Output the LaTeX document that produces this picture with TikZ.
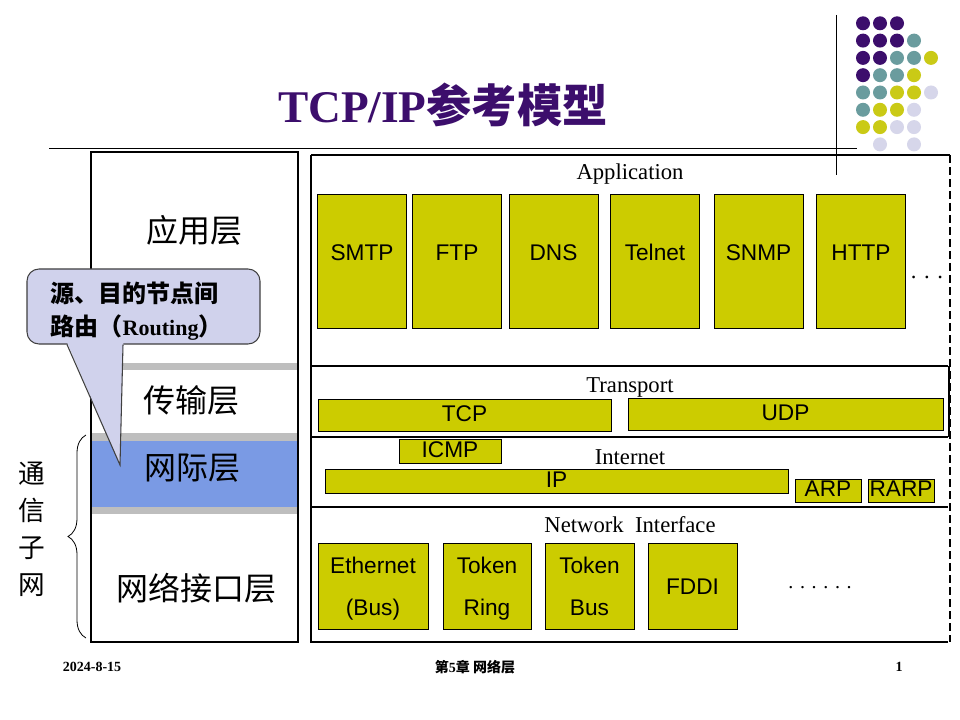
\documentclass[tikz,border=0pt]{standalone}
\usepackage{fontspec}
\setmainfont{Liberation Serif}
\newfontfamily\arial{Liberation Sans}
\newfontfamily\cjk{Noto Sans CJK SC}
\usetikzlibrary{decorations.pathreplacing}
\definecolor{deep}{RGB}{60,14,108}
\definecolor{dotteal}{RGB}{106,156,158}
\definecolor{dotolive}{RGB}{202,202,22}
\definecolor{dotlav}{RGB}{214,214,234}
\definecolor{boxfill}{RGB}{204,204,0}
\definecolor{layblue}{RGB}{122,154,228}
\definecolor{callfill}{RGB}{208,210,236}
\definecolor{bargray}{RGB}{190,190,190}

\begin{document}
\begin{tikzpicture}[x=0.75pt,y=-0.75pt,
	proto/.style={draw=black,fill=boxfill,inner sep=0pt,font=\arial\fontsize{17}{32}\selectfont},
	app/.style={proto,minimum width=66.75pt,minimum height=100.5pt,text height=12.5pt,text depth=13.8pt},
	bar/.style={proto,minimum height=#1,text height=12.5pt,text depth=3pt},
	nif/.style={proto,align=center,minimum width=66.75pt,minimum height=64.5pt},
	sect/.style={font=\fontsize{17}{20}\selectfont},
	layer/.style={font=\cjk\fontsize{24}{28}\selectfont},
	foot/.style={font=\bfseries\fontsize{10.5}{12}\selectfont}]
	\useasboundingbox (0,0) rectangle (960,720);
	\fill[white] (0,0) rectangle (960,720);
	\foreach \c/\r in {1/1,2/1,3/1,1/2,2/2,3/2,1/3,2/3,1/4}
		\fill[deep] (846+17*\c,6+17.3*\r) circle (5.25pt);
	\foreach \c/\r in {4/2,3/3,4/3,2/4,3/4,1/5,2/5,1/6}
		\fill[dotteal] (846+17*\c,6+17.3*\r) circle (5.25pt);
	\foreach \c/\r in {5/3,4/4,3/5,4/5,2/6,3/6,1/7,2/7}
		\fill[dotolive] (846+17*\c,6+17.3*\r) circle (5.25pt);
	\foreach \c/\r in {5/5,4/6,3/7,4/7,2/8,4/8}
		\fill[dotlav] (846+17*\c,6+17.3*\r) circle (5.25pt);
	\draw[line width=.6pt] (836,15) -- (836,175);
	\draw[line width=.6pt] (49,148) -- (857,148);
	\node[text=deep,font=\fontsize{34}{40}\selectfont] (title) at (443,105) {{\bfseries TCP/IP}{\cjk\bfseries 参考模型}};

	\fill[layblue] (91,441) rectangle (298,507);
	\fill[bargray] (91,363) rectangle (298,370);
	\fill[bargray] (91,433) rectangle (298,441);
	\fill[bargray] (91,507) rectangle (298,514);
	\draw[line width=.8pt] (91,152) rectangle (298,642);
	\draw[line width=2pt] (91,152) -- (298,152);
	\draw[line width=1.5pt] (91,370) -- (91,510) (298,152) -- (298,510) (91,642) -- (298,642);
	\node[layer] (app-l) at (194,230) {应用层};
	\node[layer] (tra-l) at (191,400) {传输层};
	\node[layer] (int-l) at (192,468) {网际层};
	\node[layer] (nif-l) at (196,588) {网络接口层};
	\draw[line width=.6pt,decorate,decoration={brace,amplitude=13.5pt}] (86,638) -- (86,435);
	\node[align=center,font=\cjk\fontsize{20}{27.75}\selectfont] (sub) at (32,529) {通\\信\\子\\网};

	\draw[line width=2pt] (311,155) -- (311,642) -- (948,642);
	\draw[line width=.8pt] (311,155) -- (950,155);
	\draw[line width=.8pt] (311,366) -- (948,366) (311,437) -- (948,437) (311,507) -- (948,507);
	\draw[line width=.8pt,dash pattern=on 6pt off 3pt] (950,155) -- (950,642);
	\draw[line width=1.5pt] (949,366) -- (949,437);

	\node[sect] (app) at (630,174) {Application};
	\node[app] (smtp) at (362,261) {SMTP};
	\node[app] (ftp) at (457,261) {FTP};
	\node[app] (dns) at (553.5,261) {DNS};
	\node[app] (tel) at (655,261) {Telnet};
	\node[app] (snmp) at (758.5,261) {SNMP};
	\node[app] (http) at (861,261) {HTTP};
	\node[sect] (more1) at (927,277) {. . .};

	\node[sect] (tra) at (630,387) {Transport};
	\node[bar=24pt,minimum width=219.75pt] (tcp) at (464.5,415) {TCP};
	\node[bar=24pt,minimum width=236.25pt] (udp) at (785.5,414) {UDP};

	\node[sect] (int) at (630,457) {Internet};
	\node[bar=18pt,minimum width=76.5pt] (icmp) at (450,451) {ICMP};
	\node[bar=18pt,minimum width=347.25pt] (ip) at (556.5,481) {IP};
	\node[bar=17.25pt,minimum width=49.5pt] (arp) at (828,490.5) {ARP};
	\node[bar=17.25pt,minimum width=49.5pt] (rarp) at (901,490.5) {RARP};

	\node[sect] (nif) at (630,525) {Network\ \ Interface};
	\node[nif,minimum width=82.5pt] (eth) at (373,586) {\strut Ethernet\\\strut(Bus)};
	\node[nif,minimum width=66pt] (ring) at (487,586) {\strut Token\\\strut Ring};
	\node[nif] (tbus) at (589.5,586) {\strut Token\\\strut Bus};
	\node[nif] (fddi) at (692.5,586) {\strut FDDI};
	\node[sect,font=\fontsize{15}{18}\selectfont] (more2) at (820,588) {. . . . . .};

	\node[draw=black!75,fill=callfill,line width=.8pt,rounded corners=9pt,minimum width=174.75pt,minimum height=56.25pt] (call) at (143.5,306.5) {};
	\fill[callfill] (66,340) -- (120,465) -- (123.5,340) -- cycle;
	\draw[black!75,line width=.8pt] (call.south west -| 67,0) -- (120,465) -- (call.south west -| 123,0);
	\node[anchor=west,align=left,font=\cjk\bfseries\fontsize{18}{25}\selectfont] (route) at (46,311.5) {源、目的节点间\\路由（{\rmfamily\bfseries\fontsize{16.5}{25}\selectfont Routing}）};

	\node[foot] (date) at (92,667) {2024-8-15};
	\node[foot] (chap) at (475,667) {{\cjk 第}5{\cjk 章 网络层}};
	\node[foot] (page) at (899,667) {1};
\end{tikzpicture}
\end{document}
